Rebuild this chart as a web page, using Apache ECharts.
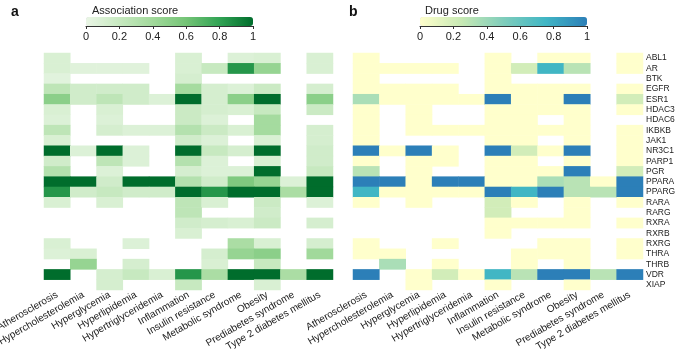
<!DOCTYPE html>
<html>
<head>
<meta charset="utf-8">
<script src="https://cdn.jsdelivr.net/npm/echarts@6/dist/echarts.min.js"></script>
<style>html,body{margin:0;padding:0;background:#fff}#c{width:675px;height:351px}</style>
</head>
<body>
<div id="c"></div>
<script>
var diseases = ['Atherosclerosis','Hypercholesterolemia','Hyperglycemia','Hyperlipidemia','Hypertriglyceridemia','Inflammation','Insulin resistance','Metabolic syndrome','Obesity','Prediabetes syndrome','Type 2 diabetes mellitus'];
var genes = ['ABL1','AR','BTK','EGFR','ESR1','HDAC3','HDAC6','IKBKB','JAK1','NR3C1','PARP1','PGR','PPARA','PPARG','RARA','RARG','RXRA','RXRB','RXRG','THRA','THRB','VDR','XIAP'];
var scaleTicks = [0, 0.2, 0.4, 0.6, 0.8, 1];
var N = null;
// association score, rows = genes, columns = diseases
var assoc = [
 [0.1,N,N,N,N,0.1,N,0.08,0.1,N,0.1],
 [0.1,0.06,0.06,0.06,N,0.1,0.2,0.85,0.45,N,0.1],
 [0.05,N,N,N,N,0.12,N,N,N,N,N],
 [0.25,0.15,0.15,0.15,N,0.38,0.12,0.08,0.18,N,0.12],
 [0.5,0.15,0.25,0.15,0.08,1,0.12,0.5,1,N,0.5],
 [0.1,N,0.1,N,N,0.18,0.12,0.1,0.2,N,0.18],
 [0.08,N,0.08,N,N,0.18,0.08,N,0.38,N,N],
 [0.25,N,0.12,0.08,0.08,0.3,0.18,0.1,0.38,N,0.12],
 [0.1,N,N,N,N,0.15,0.08,N,0.1,N,0.12],
 [1,0.08,1,0.08,N,1,0.2,0.12,1,N,0.15],
 [0.15,N,0.25,0.08,N,0.3,0.08,N,0.1,N,0.15],
 [0.3,N,0.08,N,N,0.12,0.08,0.08,1,N,0.2],
 [1,1,0.15,1,1,0.3,0.15,0.55,0.45,0.08,1],
 [0.85,0.15,0.2,0.15,0.15,1,0.85,1,1,0.35,1],
 [0.1,N,0.1,N,N,0.25,0.1,N,0.18,N,0.08],
 [N,N,N,N,N,0.25,N,N,0.15,N,N],
 [N,N,N,N,N,0.15,0.12,0.1,0.18,N,0.12],
 [N,N,N,N,N,0.1,N,N,N,N,N],
 [0.1,N,N,0.08,N,N,N,0.35,0.1,N,0.12],
 [0.08,0.1,N,N,N,N,0.12,0.45,0.5,N,0.4],
 [N,0.45,N,0.12,N,N,0.1,N,0.2,N,N],
 [1,N,0.12,0.2,0.1,0.85,0.35,1,1,0.35,1],
 [N,N,0.12,N,N,0.2,N,N,0.1,N,N]
];
// drug score
var drug = [
 [0,N,N,N,N,0,N,0,0,N,0],
 [0,0,0,0,N,0,0.2,0.75,0.3,N,0],
 [0,N,N,N,N,0,N,N,N,N,N],
 [0,0,0,0,N,0,0,0,0,N,0],
 [0.35,0,0,0,0,1,0,0,1,N,0.2],
 [0,N,0,N,N,0,0,0,0,N,0],
 [0,N,0,N,N,0,0,N,0,N,N],
 [0,N,0,0,0,0,0,0,0,N,0],
 [0,N,N,N,N,0,0,N,0,N,0],
 [1,0,1,0,N,1,0.2,0,1,N,0],
 [0,N,0,0,N,0,0,N,0,N,0],
 [0.3,N,0,N,N,0,0,0,1,N,0.2],
 [1,1,0,1,1,0,0,0.35,0.3,0,1],
 [0.75,0,0,0,0,1,0.75,1,0.3,0.3,1],
 [0,N,0,N,N,0.2,0,N,0,N,0],
 [N,N,N,N,N,0.2,N,N,0,N,N],
 [N,N,N,N,N,0,0,0,0,N,0],
 [N,N,N,N,N,0,N,N,N,N,N],
 [0,N,N,0,N,N,N,0,0,N,0],
 [0,0,N,N,N,N,0,0,0,N,0],
 [N,0.35,N,0,N,N,0,N,0,N,N],
 [1,N,0,0.2,0,0.75,0.3,1,1,0.3,1],
 [N,N,0,N,N,0,N,N,0,N,N]
];

function toData(m){
  var out=[];
  for (var r=0;r<m.length;r++) for (var c=0;c<m[r].length;c++) if (m[r][c]!==null) out.push([c,r,m[r][c]]);
  return out;
}
var FONT = 'Liberation Sans';
function heatX(gi){
  return {type:'category', gridIndex:gi, data:diseases, axisLine:{show:false}, axisTick:{show:false}, splitLine:{show:false},
    axisLabel:{rotate:30, fontSize:10, margin:4, interval:0, fontFamily:FONT, color:'#222'}};
}
function heatY(gi, show){
  return {type:'category', gridIndex:gi, data:genes, inverse:true, position:'right', axisLine:{show:false}, axisTick:{show:false}, splitLine:{show:false},
    axisLabel:{show:show, interval:0, fontSize:8.5, margin:3, fontFamily:FONT, color:'#222'}};
}
function barX(gi){
  return {type:'value', gridIndex:gi, min:scaleTicks[0], max:scaleTicks[scaleTicks.length-1], interval:0.2, splitLine:{show:false},
    axisLine:{show:true, lineStyle:{color:'#333', width:1}}, axisTick:{show:true, length:3, lineStyle:{color:'#333'}},
    axisLabel:{fontSize:11, margin:5, fontFamily:FONT, color:'#222'}};
}
function g(l,t,w,h){ return {left:l, top:t, width:w, height:h, outerBoundsMode:'none', containLabel:false}; }
var chart = echarts.init(document.getElementById('c'));
chart.setOption({
  animation:false,
  backgroundColor:'#fff',
  textStyle:{fontFamily:FONT},
  title:[
    {text:'a', left:6, top:0, textStyle:{fontSize:14, fontWeight:'bold', color:'#111', fontFamily:FONT}},
    {text:'b', left:344, top:0, textStyle:{fontSize:14, fontWeight:'bold', color:'#111', fontFamily:FONT}},
    {text:'Association score', left:87, top:0, textStyle:{fontSize:11, fontWeight:'normal', color:'#222', fontFamily:FONT}},
    {text:'Drug score', left:420, top:0, textStyle:{fontSize:11, fontWeight:'normal', color:'#222', fontFamily:FONT}}
  ],
  grid:[ g(44,53,289,237), g(353,53,290,237), g(86,17,167,9), g(420,17,167,9) ],
  xAxis:[heatX(0), heatX(1), barX(2), barX(3)],
  yAxis:[heatY(0,false), heatY(1,true), {gridIndex:2, show:false, min:0, max:1}, {gridIndex:3, show:false, min:0, max:1}],
  visualMap:[
    {type:'continuous', seriesIndex:0, min:0, max:1, orient:'horizontal', left:86, top:17, itemWidth:9, itemHeight:167, padding:0,
     calculable:false, showLabel:false, text:null, hoverLink:false,
     inRange:{color:['#eaf6e6','#c7e9c0','#a1d99b','#74c476','#31a354','#006d2c']}},
    {type:'continuous', seriesIndex:1, min:0, max:1, orient:'horizontal', left:420, top:17, itemWidth:9, itemHeight:167, padding:0,
     calculable:false, showLabel:false, text:null, hoverLink:false,
     inRange:{color:['#ffffcc','#c7e9b4','#7fcdbb','#41b6c4','#2c7fb8']}}
  ],
  series:[
    {type:'heatmap', xAxisIndex:0, yAxisIndex:0, data:toData(assoc), emphasis:{disabled:true}},
    {type:'heatmap', xAxisIndex:1, yAxisIndex:1, data:toData(drug), emphasis:{disabled:true}}
  ]
});
</script>
</body>
</html>
